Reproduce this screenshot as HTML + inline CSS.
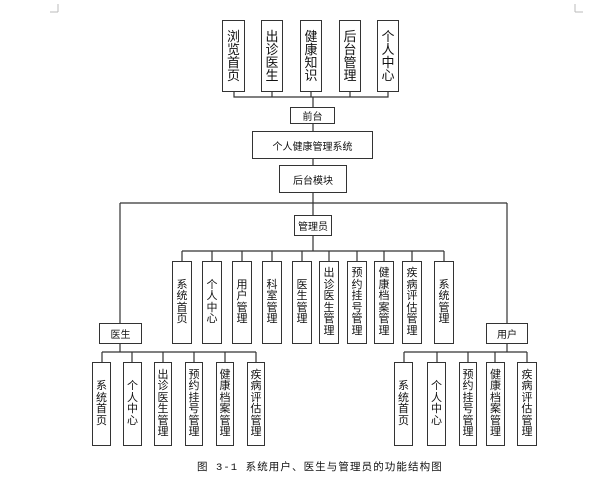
<!DOCTYPE html>
<html><head><meta charset="utf-8"><style>
html,body{margin:0;padding:0;background:#fff;}
body{width:604px;height:490px;position:relative;overflow:hidden;font-family:"Liberation Sans","Noto Sans CJK SC",sans-serif;color:#111;}
.b{position:absolute;box-sizing:border-box;border:1.5px solid #333;background:#fff;display:flex;align-items:center;justify-content:center;text-align:center;font-size:10px;}
.v{font-size:11px;line-height:11.5px;}
.t{font-size:13px;line-height:13px;}
svg{position:absolute;left:0;top:0;}
.cap{position:absolute;left:197px;top:459px;font-size:10.5px;letter-spacing:1.1px;white-space:nowrap;font-family:"Liberation Mono","Noto Sans CJK SC",monospace;}
</style></head><body>
<svg width="604" height="490" stroke="#333" fill="none">
<path d="M58 4V12M58 12H50M575 4V12M575 12H583" stroke="#bbb" stroke-width="1"/>
<path d="M234 92V97H388V92M272 92V97M311 92V97M350 92V97M313 97V107M313 124V131M313 159V165M313 193V215M120 203H507M120 203V323M507 203V323M313 236V251" stroke-width="1.2"/>
<path d="M182 251H444M182 251V261M212 251V261M242 251V261M272 251V261M302 251V261M329 251V261M357 251V261M384 251V261M412 251V261M444 251V261" stroke-width="1.2"/>
<path d="M120 344V352M102 352H256M102 352V362M132 352V362M163 352V362M194 352V362M225 352V362M256 352V362" stroke-width="1.2"/>
<path d="M507 344V352M404 352H527M404 352V362M437 352V362M468 352V362M495 352V362M527 352V362" stroke-width="1.2"/>
</svg>
<div class="b t" style="left:222px;top:20px;width:23px;height:72px">浏<br>览<br>首<br>页</div>
<div class="b t" style="left:261px;top:20px;width:22px;height:72px">出<br>诊<br>医<br>生</div>
<div class="b t" style="left:300px;top:20px;width:22px;height:72px">健<br>康<br>知<br>识</div>
<div class="b t" style="left:339px;top:20px;width:22px;height:72px">后<br>台<br>管<br>理</div>
<div class="b t" style="left:377px;top:20px;width:22px;height:72px">个<br>人<br>中<br>心</div>
<div class="b" style="left:290px;top:107px;width:45px;height:17px">前台</div>
<div class="b" style="left:252px;top:131px;width:121px;height:28px">个人健康管理系统</div>
<div class="b" style="left:279px;top:165px;width:68px;height:28px">后台模块</div>
<div class="b" style="left:294px;top:215px;width:38px;height:21px">管理员</div>
<div class="b v" style="left:172px;top:261px;width:20px;height:83px">系<br>统<br>首<br>页</div>
<div class="b v" style="left:202px;top:261px;width:20px;height:83px">个<br>人<br>中<br>心</div>
<div class="b v" style="left:232px;top:261px;width:20px;height:83px">用<br>户<br>管<br>理</div>
<div class="b v" style="left:262px;top:261px;width:20px;height:83px">科<br>室<br>管<br>理</div>
<div class="b v" style="left:292px;top:261px;width:20px;height:83px">医<br>生<br>管<br>理</div>
<div class="b v" style="left:319px;top:261px;width:20px;height:83px">出<br>诊<br>医<br>生<br>管<br>理</div>
<div class="b v" style="left:347px;top:261px;width:20px;height:83px">预<br>约<br>挂<br>号<br>管<br>理</div>
<div class="b v" style="left:374px;top:261px;width:20px;height:83px">健<br>康<br>档<br>案<br>管<br>理</div>
<div class="b v" style="left:402px;top:261px;width:20px;height:83px">疾<br>病<br>评<br>估<br>管<br>理</div>
<div class="b v" style="left:434px;top:261px;width:20px;height:83px">系<br>统<br>管<br>理</div>
<div class="b" style="left:99px;top:323px;width:43px;height:21px">医生</div>
<div class="b" style="left:486px;top:323px;width:42px;height:21px">用户</div>
<div class="b v" style="left:92px;top:362px;width:19px;height:84px">系<br>统<br>首<br>页</div>
<div class="b v" style="left:123px;top:362px;width:19px;height:84px">个<br>人<br>中<br>心</div>
<div class="b v" style="left:154px;top:362px;width:18px;height:84px">出<br>诊<br>医<br>生<br>管<br>理</div>
<div class="b v" style="left:185px;top:362px;width:18px;height:84px">预<br>约<br>挂<br>号<br>管<br>理</div>
<div class="b v" style="left:216px;top:362px;width:18px;height:84px">健<br>康<br>档<br>案<br>管<br>理</div>
<div class="b v" style="left:247px;top:362px;width:18px;height:84px">疾<br>病<br>评<br>估<br>管<br>理</div>
<div class="b v" style="left:394px;top:362px;width:19px;height:84px">系<br>统<br>首<br>页</div>
<div class="b v" style="left:427px;top:362px;width:19px;height:84px">个<br>人<br>中<br>心</div>
<div class="b v" style="left:459px;top:362px;width:18px;height:84px">预<br>约<br>挂<br>号<br>管<br>理</div>
<div class="b v" style="left:486px;top:362px;width:19px;height:84px">健<br>康<br>档<br>案<br>管<br>理</div>
<div class="b v" style="left:517px;top:362px;width:20px;height:84px">疾<br>病<br>评<br>估<br>管<br>理</div>
<div class="cap">图 3-1 系统用户、医生与管理员的功能结构图</div>
</body></html>
